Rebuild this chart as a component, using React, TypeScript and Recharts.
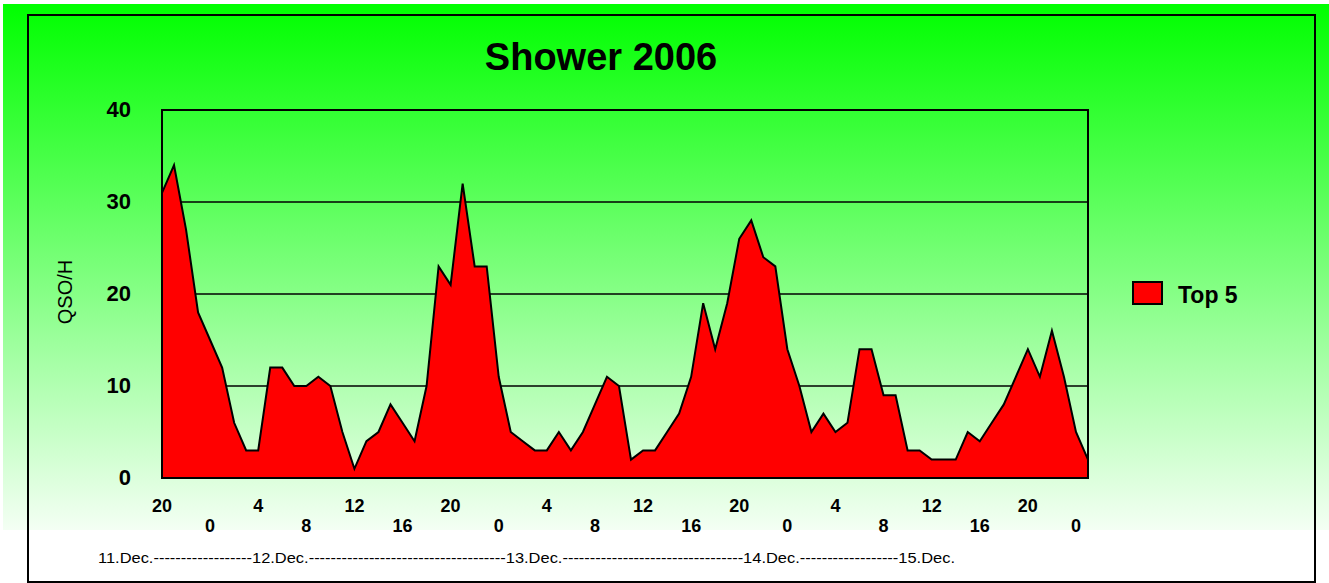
import React from 'react';
import { AreaChart, Area, XAxis, YAxis, CartesianGrid } from 'recharts';

// hourly slots starting 11.Dec 20h
const hours = [
  20, 21, 22, 23, 0, 1, 2, 3, 4, 5, 6, 7, 8, 9, 10, 11, 12, 13, 14, 15, 16, 17, 18, 19,
  20, 21, 22, 23, 0, 1, 2, 3, 4, 5, 6, 7, 8, 9, 10, 11, 12, 13, 14, 15, 16, 17, 18, 19,
  20, 21, 22, 23, 0, 1, 2, 3, 4, 5, 6, 7, 8, 9, 10, 11, 12, 13, 14, 15, 16, 17, 18, 19,
  20, 21, 22, 23, 0, 1,
];

const top5 = [
  31, 34, 27, 18, 15, 12, 6, 3, 3, 12, 12, 10, 10, 11, 10, 5, 1, 4, 5, 8, 6, 4, 10, 23,
  21, 32, 23, 23, 11, 5, 4, 3, 3, 5, 3, 5, 8, 11, 10, 2, 3, 3, 5, 7, 11, 19, 14, 19,
  26, 28, 24, 23, 14, 10, 5, 7, 5, 6, 14, 14, 9, 9, 3, 3, 2, 2, 2, 5, 4, 6, 8, 11,
  14, 11, 16, 11, 5, 2,
];

const yTicks = [0, 10, 20, 30, 40];
const dateLine =
  '11.Dec.------------------12.Dec.------------------------------------13.Dec.---------------------------------14.Dec.------------------15.Dec.';

const data = top5.map((v, i) => ({ slot: i, hour: hours[i], qso: v }));

const FONT = "Arial, 'Liberation Sans', sans-serif";

const HourTick = (props: any) => {
  const { x, y, payload } = props;
  const i = Number(payload.value);
  const lower = Math.floor(i / 4) % 2 === 1;
  return (
    <text
      x={x}
      y={y + (lower ? 54 : 34)}
      textAnchor="middle"
      fontFamily={FONT}
      fontWeight="bold"
      fontSize={18}
      fill="#000"
    >
      {hours[i]}
    </text>
  );
};

const ValueTick = (props: any) => {
  const { x, y, payload } = props;
  return (
    <text
      x={x}
      y={y}
      dy={7}
      textAnchor="end"
      fontFamily={FONT}
      fontWeight="bold"
      fontSize={22}
      fill="#000"
    >
      {payload.value}
    </text>
  );
};

const App: React.FC = () => {
  return (
    <div style={{ position: 'absolute', left: 0, top: 0, width: 1329, height: 583, background: '#fff' }}>
      <div
        style={{
          position: 'absolute',
          left: 3,
          top: 4,
          width: 1326,
          height: 526,
          background: 'linear-gradient(to bottom, #00ff00, #f4fff4)',
        }}
      />
      <div style={{ position: 'absolute', left: 0, top: 0 }}>
        <AreaChart
          width={1329}
          height={583}
          data={data}
          margin={{ top: 110, right: 241, left: 102, bottom: 45 }}
        >
          <CartesianGrid vertical={false} stroke="#000" strokeWidth={1.5} />
          <XAxis
            dataKey="slot"
            type="category"
            interval={3}
            height={60}
            tickSize={0}
            tickMargin={0}
            axisLine={false}
            tickLine={false}
            tick={<HourTick />}
          />
          <YAxis
            width={60}
            domain={[0, 40]}
            ticks={yTicks}
            tickSize={0}
            tickMargin={31}
            axisLine={false}
            tickLine={false}
            tick={<ValueTick />}
          />
          <Area
            type="linear"
            dataKey="qso"
            name="Top 5"
            stroke="#000"
            strokeWidth={2}
            fill="#ff0000"
            fillOpacity={1}
            dot={false}
            isAnimationActive={false}
          />
        </AreaChart>
      </div>
      <svg
        width={1329}
        height={583}
        style={{ position: 'absolute', left: 0, top: 0, pointerEvents: 'none' }}
      >
        <rect x={28} y={15} width={1287} height={567} fill="none" stroke="#000" strokeWidth={2} />
        <rect x={162} y={110} width={926} height={368} fill="none" stroke="#000" strokeWidth={2} />
        <text x={601} y={70} textAnchor="middle" fontFamily={FONT} fontWeight="bold" fontSize={38} fill="#000">
          Shower 2006
        </text>
        <text
          x={72}
          y={292}
          transform="rotate(-90 72 292)"
          textAnchor="middle"
          fontFamily={FONT}
          fontSize={20}
          fill="#000"
        >
          QSO/H
        </text>
        <rect x={1133} y={282} width={29} height={22} fill="#ff0000" stroke="#000" strokeWidth={2} />
        <text x={1178} y={303} fontFamily={FONT} fontWeight="bold" fontSize={23} fill="#000">
          Top 5
        </text>
        <text
          x={98}
          y={563}
          fontFamily={FONT}
          fontSize={15}
          fill="#000"
          textLength={857}
          lengthAdjust="spacingAndGlyphs"
        >
          {dateLine}
        </text>
      </svg>
    </div>
  );
};

export default App;
